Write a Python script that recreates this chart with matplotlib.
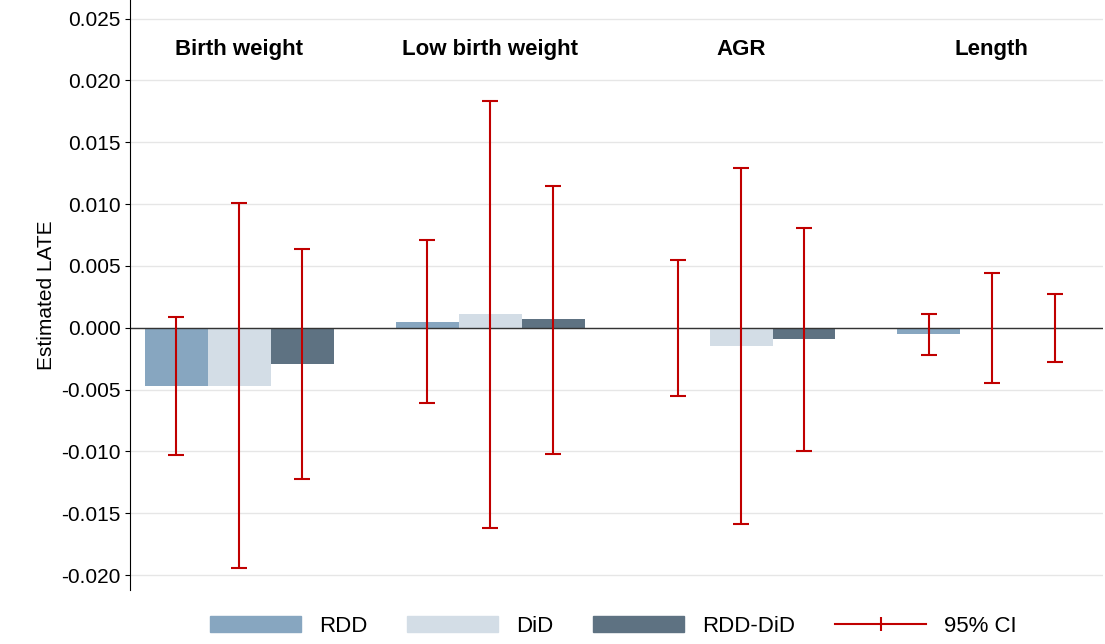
import matplotlib
matplotlib.use("Agg")
import matplotlib.pyplot as plt
import numpy as np
from matplotlib.lines import Line2D
from matplotlib.patches import Patch

plt.rcParams["font.family"] = ["Liberation Sans", "DejaVu Sans"]

outcomes = ["Birth weight", "Low birth weight", "AGR", "Length"]
methods = ["RDD", "DiD", "RDD-DiD"]
colors = ["#87a6c0", "#d3dde6", "#5e7282"]
est = {
    "RDD": [-0.0047, 0.0005, -0.0001, -0.0005],
    "DiD": [-0.0047, 0.0011, -0.0015, -0.0001],
    "RDD-DiD": [-0.0029, 0.0007, -0.0009, -0.0001],
}
lo = {
    "RDD": [-0.0103, -0.0061, -0.0055, -0.0022],
    "DiD": [-0.0194, -0.0162, -0.0159, -0.0045],
    "RDD-DiD": [-0.0122, -0.0102, -0.0100, -0.0028],
}
hi = {
    "RDD": [0.0009, 0.0071, 0.0055, 0.0011],
    "DiD": [0.0101, 0.0183, 0.0129, 0.0044],
    "RDD-DiD": [0.0064, 0.0115, 0.0081, 0.0027],
}

fig = plt.figure(figsize=(11.05, 6.44), dpi=100)
ax = fig.add_axes([0.118, 0.084, 0.880, 0.916])
w = 0.251
x = np.arange(len(outcomes))
red = "#c00000"
for k, m in enumerate(methods):
    xs = x + (k - 1) * w
    v = np.array(est[m])
    ax.bar(xs, v, width=w, color=colors[k], zorder=2)
    ax.errorbar(xs, v, yerr=[v - np.array(lo[m]), np.array(hi[m]) - v], fmt="none",
                ecolor=red, elinewidth=1.5, capsize=6, capthick=1.5, zorder=3)
ax.axhline(0, color="#333333", lw=1, zorder=2)
for i, t in enumerate(outcomes):
    ax.text(i, 0.0225, t, ha="center", va="center", fontsize=16, fontweight="bold")
ax.set_xlim(-0.434, 3.442)
ax.set_ylim(-0.0212, 0.0265)
ticks = np.arange(-0.020, 0.0251, 0.005)
ax.set_yticks(ticks)
ax.set_yticklabels(["%.3f" % t for t in ticks], fontsize=15)
ax.set_xticks([])
ax.grid(axis="y", color="#e6e6e6", lw=1, zorder=0)
for s in ["top", "right", "bottom"]:
    ax.spines[s].set_visible(False)
ax.set_ylabel("Estimated LATE", fontsize=15)
handles = [Patch(color=c) for c in colors] + [
    Line2D([0], [0], color=red, lw=1.5, marker="|", markersize=10, markeredgewidth=1.5)]
fig.legend(handles, methods + ["95% CI"], loc="lower center", ncol=4, frameon=False,
           fontsize=16, bbox_to_anchor=(0.555, -0.02), handlelength=4.1, columnspacing=1.8)
fig.savefig("out.png")
